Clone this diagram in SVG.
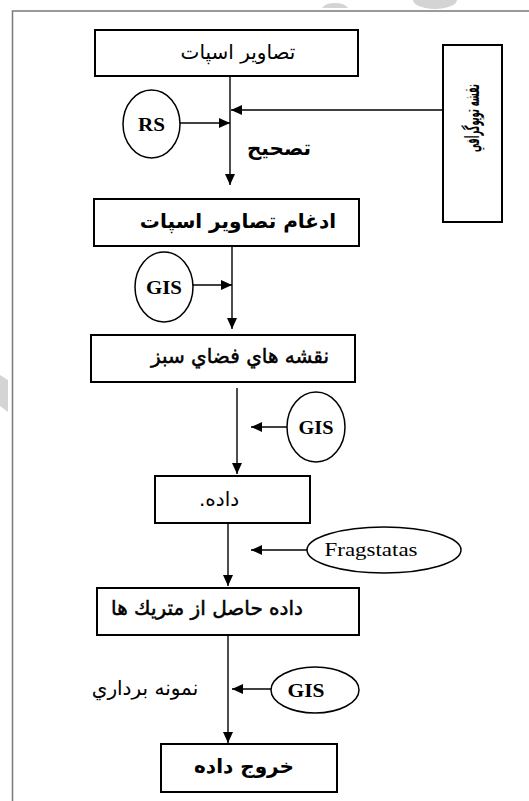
<svg xmlns="http://www.w3.org/2000/svg" width="529" height="801" viewBox="0 0 529 801">
<style>
.box{fill:#fff;stroke:#000;stroke-width:2}
.ell{fill:#fff;stroke:#000;stroke-width:1.5}
.ln{fill:none;stroke:#000;stroke-width:1.4}
.ar{font-family:"DejaVu Sans",sans-serif;font-size:20px;fill:#000;text-anchor:middle;direction:rtl}
.b{font-weight:bold}
.sb{stroke:#000;stroke-width:0.5}
.lat{font-family:"Liberation Serif",serif;font-size:19px;font-weight:bold;fill:#000;text-anchor:middle}
.wm{fill:#d4d4d4}
</style>
<defs>
<marker id="ah" markerUnits="userSpaceOnUse" markerWidth="11" markerHeight="10" refX="11" refY="5" orient="auto">
<path d="M0,0 L11,5 L0,10 z" fill="#000"/>
</marker>
</defs>
<rect width="529" height="801" fill="#fff"/>
<g id="watermark">
<path class="wm" d="M322,8 A14,8 0 0 1 348,8 z"/>
<path class="wm" d="M413,0 L457,0 A22,9 0 0 1 413,0 z"/>
<path class="wm" d="M0,375 L8,380 L8,412 L0,406 z"/>
</g>
<g id="frame">
<path d="M12.5,801 L12.5,11 L529,11" fill="none" stroke="#7a7a7a" stroke-width="1.5"/>
</g>
<g id="connectors">
<line class="ln" x1="230" y1="76" x2="230" y2="185" marker-end="url(#ah)"/>
<line class="ln" x1="180" y1="123" x2="230" y2="123" marker-end="url(#ah)"/>
<line class="ln" x1="443" y1="110" x2="231" y2="110" stroke="#444" marker-end="url(#ah)"/>
<line class="ln" x1="232" y1="246" x2="232" y2="329" marker-end="url(#ah)"/>
<line class="ln" x1="193" y1="285" x2="232" y2="285" marker-end="url(#ah)"/>
<line class="ln" x1="237" y1="388" x2="237" y2="474" marker-end="url(#ah)"/>
<line class="ln" x1="287" y1="427" x2="251" y2="427" marker-end="url(#ah)"/>
<line class="ln" x1="228" y1="523" x2="228" y2="586" marker-end="url(#ah)"/>
<line class="ln" x1="307" y1="550" x2="251" y2="550" marker-end="url(#ah)"/>
<line class="ln" x1="228" y1="635" x2="228" y2="743" marker-end="url(#ah)"/>
<line class="ln" x1="272" y1="689" x2="232" y2="689" marker-end="url(#ah)"/>
</g>
<g id="landsat">
<rect class="box" x="95" y="30" width="263" height="46"/>
<text class="ar" x="238" y="59" font-size="24.5">تصاوير اسپات</text>
</g>
<g id="topo">
<rect class="box" x="443" y="45" width="59" height="177"/>
<text class="ar b" transform="translate(479,118) rotate(-90) scale(0.41,1)" font-size="19">نقشه توپوگرافي</text>
</g>
<g id="rs">
<ellipse class="ell" cx="151.5" cy="124" rx="28.5" ry="34"/>
<text class="lat" x="151.5" y="131" textLength="27" lengthAdjust="spacingAndGlyphs">RS</text>
</g>
<g id="label-correction">
<text class="ar b" x="279" y="155" font-size="22">تصحيح</text>
</g>
<g id="merge">
<rect class="box" x="94" y="199" width="265" height="47"/>
<text class="ar b" x="238" y="228" font-size="18.4">ادغام تصاوير اسپات</text>
</g>
<g id="gis1">
<ellipse class="ell" cx="164" cy="287" rx="29" ry="35"/>
<text class="lat" x="164" y="294" textLength="36" lengthAdjust="spacingAndGlyphs">GIS</text>
</g>
<g id="greenmaps">
<rect class="box" x="91" y="335" width="264" height="47"/>
<text class="ar sb" x="240" y="363" font-size="19.5">نقشه هاي فضاي سبز</text>
</g>
<g id="gis2">
<ellipse class="ell" cx="316" cy="427" rx="29" ry="35"/>
<text class="lat" x="316" y="434" textLength="35" lengthAdjust="spacingAndGlyphs">GIS</text>
</g>
<g id="data">
<rect class="box" x="155" y="476" width="155" height="47"/>
<text class="ar" x="219" y="506" font-size="16">داده.</text>
</g>
<g id="fragstats">
<ellipse class="ell" cx="384" cy="550" rx="77" ry="23"/>
<text x="371" y="556" font-family="Liberation Serif, serif" font-size="18" text-anchor="middle" textLength="93" lengthAdjust="spacingAndGlyphs">Fragstatas</text>
</g>
<g id="metrics">
<rect class="box" x="97" y="588" width="262" height="47"/>
<text class="ar sb" x="207" y="615" font-size="18.4">داده حاصل از متريك ها</text>
</g>
<g id="gis3">
<ellipse class="ell" cx="315" cy="690" rx="44" ry="23"/>
<text class="lat" x="306" y="697" textLength="37" lengthAdjust="spacingAndGlyphs">GIS</text>
</g>
<g id="label-sampling">
<text class="ar" x="145" y="695" font-size="22">نمونه برداري</text>
</g>
<g id="output">
<rect class="box" x="161" y="744" width="176" height="48"/>
<text class="ar b" x="244" y="773" font-size="21">خروج داده</text>
</g>
</svg>
